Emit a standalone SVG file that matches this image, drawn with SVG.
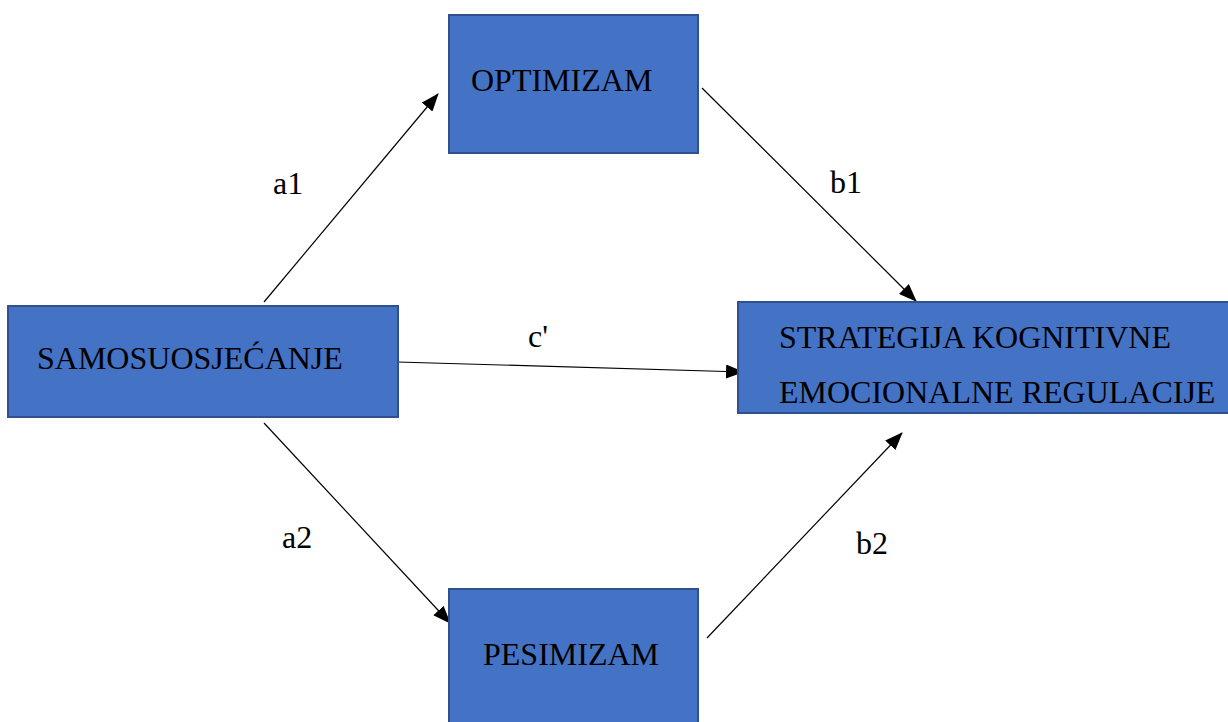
<svg xmlns="http://www.w3.org/2000/svg" width="1228" height="722" viewBox="0 0 1228 722">
<style>
.box{fill:#4472C4;stroke:#2F528F;stroke-width:2}
.t{font-family:'Liberation Serif','DejaVu Serif',serif;font-size:32px;fill:#000}
.c{stroke:#000;stroke-width:1.2;fill:none;marker-end:url(#ah)}
</style>
<defs>
<marker id="ah" markerUnits="userSpaceOnUse" markerWidth="18" markerHeight="14" refX="17" refY="7" orient="auto" viewBox="0 0 18 14">
<path d="M0,0 L18,7 L0,14 z" fill="#000"/>
</marker>
</defs>
<rect width="1228" height="722" fill="#fff"/>
<g id="connectors">
<line class="c" x1="264" y1="302" x2="438" y2="94"/>
<line class="c" x1="702" y1="88" x2="916" y2="301"/>
<line class="c" x1="397" y1="362" x2="743" y2="372"/>
<line class="c" x1="264" y1="423" x2="450" y2="623"/>
<line class="c" x1="707" y1="638" x2="902" y2="433"/>
<text class="t" x="273" y="194">a1</text>
<text class="t" x="830" y="193">b1</text>
<text class="t" x="528" y="347">c'</text>
<text class="t" x="282" y="548">a2</text>
<text class="t" x="856" y="554">b2</text>
</g>
<g id="optimizam">
<rect class="box" x="449" y="15" width="249" height="138"/>
<text class="t" x="471" y="91">OPTIMIZAM</text>
</g>
<g id="samosuosjecanje">
<rect class="box" x="8" y="306" width="390" height="111"/>
<text class="t" x="37" y="369">SAMOSUOSJEĆANJE</text>
</g>
<g id="strategija">
<rect class="box" x="738" y="302" width="500" height="111"/>
<text class="t" x="779" y="348">STRATEGIJA KOGNITIVNE</text>
<text class="t" x="779" y="403">EMOCIONALNE REGULACIJE</text>
</g>
<g id="pesimizam">
<rect class="box" x="449" y="589" width="249" height="150"/>
<text class="t" x="483" y="665">PESIMIZAM</text>
</g>
</svg>
